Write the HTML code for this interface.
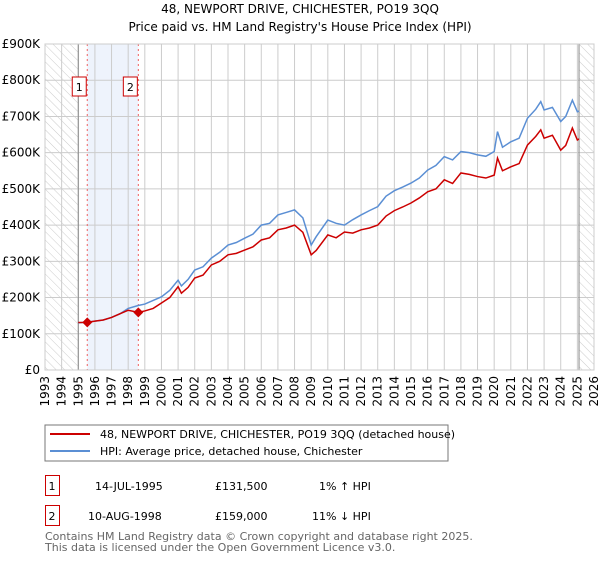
<!DOCTYPE html>
<html><head><meta charset="utf-8"><style>
body{margin:0;background:#fff;font-family:"DejaVu Sans","Liberation Sans",sans-serif;}
svg text{font-family:"DejaVu Sans","Liberation Sans",sans-serif;}
</style></head><body>
<svg id="chart" width="600" height="560" xmlns="http://www.w3.org/2000/svg">
<defs><pattern id="hatch" width="6" height="6" patternUnits="userSpaceOnUse" patternTransform="rotate(-45)"><line x1="0" y1="0" x2="0" y2="6" stroke="#ccc" stroke-width="1"/></pattern></defs>
<text x="300" y="13" text-anchor="middle" font-size="12">48, NEWPORT DRIVE, CHICHESTER, PO19 3QQ</text>
<text x="300" y="31" text-anchor="middle" font-size="12">Price paid vs. HM Land Registry's House Price Index (HPI)</text>
<g id="plot"></g>
<rect x="45" y="425" width="403" height="36" fill="#fff" stroke="#777"/>
<line x1="50" y1="434" x2="90" y2="434" stroke="#cc0000" stroke-width="2"/>
<text x="100" y="438" font-size="11">48, NEWPORT DRIVE, CHICHESTER, PO19 3QQ (detached house)</text>
<line x1="50" y1="451" x2="90" y2="451" stroke="#5b8fd4" stroke-width="2"/>
<text x="100" y="455" font-size="11">HPI: Average price, detached house, Chichester</text>
<g font-size="11">
<rect x="45.5" y="475.5" width="14" height="20" fill="none" stroke="#cc0000"/>
<text x="52" y="490" text-anchor="middle">1</text>
<text x="95" y="490">14-JUL-1995</text>
<text x="215" y="490">£131,500</text>
<text x="319" y="490">1% ↑ HPI</text>
<rect x="45.5" y="505.5" width="14" height="20" fill="none" stroke="#cc0000"/>
<text x="52" y="520" text-anchor="middle">2</text>
<text x="88" y="520">10-AUG-1998</text>
<text x="215" y="520">£159,000</text>
<text x="312" y="520">11% ↓ HPI</text>
</g>
<text x="45" y="540" font-size="11" fill="#666">Contains HM Land Registry data © Crown copyright and database right 2025.</text>
<text x="45" y="551" font-size="11" fill="#666">This data is licensed under the Open Government Licence v3.0.</text>
</svg>
<script>
const yearTicks=[1993,1994,1995,1996,1997,1998,1999,2000,2001,2002,2003,2004,2005,2006,2007,2008,2009,2010,2011,2012,2013,2014,2015,2016,2017,2018,2019,2020,2021,2022,2023,2024,2025,2026];
const valueTicks=[0,100,200,300,400,500,600,700,800,900];
const valueLabels=["£0","£100K","£200K","£300K","£400K","£500K","£600K","£700K","£800K","£900K"];
const hpiYears=[1995.0,1995.5,1996,1996.5,1997,1997.5,1998,1998.6,1999,1999.5,2000,2000.5,2001,2001.2,2001.6,2002,2002.5,2003,2003.5,2004,2004.5,2005,2005.5,2006,2006.5,2007,2007.5,2008,2008.5,2009.0,2009.3,2010,2010.5,2011,2011.5,2012,2012.5,2013,2013.5,2014,2014.5,2015,2015.5,2016,2016.5,2017,2017.5,2018,2018.5,2019,2019.5,2020,2020.2,2020.5,2021,2021.5,2022,2022.5,2022.8,2023,2023.5,2024,2024.3,2024.7,2025,2025.1];
const hpiValues=[130,132,135,138,145,155,170,178,182,192,202,220,248,232,250,276,285,309,325,345,352,364,375,400,405,428,435,442,420,345,368,414,405,400,415,428,440,451,480,495,505,516,530,552,565,589,580,603,600,594,590,603,658,615,630,640,695,720,741,718,725,686,700,745,713,715];
const priceYears=[1995.0,1995.54,1996,1996.5,1997,1997.5,1998,1998.61,1999,1999.5,2000,2000.5,2001,2001.2,2001.6,2002,2002.5,2003,2003.5,2004,2004.5,2005,2005.5,2006,2006.5,2007,2007.5,2008,2008.5,2009.0,2009.3,2010,2010.5,2011,2011.5,2012,2012.5,2013,2013.5,2014,2014.5,2015,2015.5,2016,2016.5,2017,2017.5,2018,2018.5,2019,2019.5,2020,2020.2,2020.5,2021,2021.5,2022,2022.5,2022.8,2023,2023.5,2024,2024.3,2024.7,2025,2025.1];
const priceValues=[131,131.5,135,138,145,155,165,159,163,170,185,200,230,212,228,254,262,290,300,318,322,331,340,359,365,387,392,400,380,318,330,373,365,381,378,387,392,400,425,440,450,461,475,492,500,525,515,544,540,534,530,538,585,550,561,570,621,645,663,640,648,607,620,668,635,638];
const sales=[{n:"1",year:1995.54,value:131.5},{n:"2",year:1998.61,value:159}];
const NS="http://www.w3.org/2000/svg";
const L=45,R=594,T=44,B=370;
const xs=y=>L+(y-1993)*(R-L)/33;
const ys=v=>B-v*(B-T)/900;
const g=document.getElementById('plot');
function mk(tag,attrs){const e=document.createElementNS(NS,tag);for(const k in attrs)e.setAttribute(k,attrs[k]);g.appendChild(e);return e;}
let e;
e=mk('rect',{x:L,y:T,width:R-L,height:B-T,fill:'#fff'});


e=mk('rect',{x:xs(sales[0].year),y:T,width:xs(sales[1].year)-xs(sales[0].year),height:B-T,fill:'#eef3fc'});


e=mk('rect',{x:L,y:T,width:xs(1995)-L,height:B-T,fill:'url(#hatch)'});


e=mk('rect',{x:xs(2025.1),y:T,width:R-xs(2025.1),height:B-T,fill:'url(#hatch)'});


yearTicks.forEach(yr=>{
 e=mk('line',{x1:xs(yr),x2:xs(yr),y1:T,y2:B,stroke:'#ccc','stroke-width':1});
 
 
 e=mk('text',{x:0,y:0,'font-size':12,'text-anchor':'end',transform:`translate(${xs(yr)+4},${B+6}) rotate(-90)`});
 e.textContent=yr;
 
 
});
valueTicks.forEach((v,i)=>{
 e=mk('line',{x1:L,x2:R,y1:ys(v),y2:ys(v),stroke:'#ccc','stroke-width':1});
 
 
 e=mk('text',{x:L-5,y:ys(v)+4,'font-size':12,'text-anchor':'end'});
 e.textContent=valueLabels[i];
 
 
});
e=mk('line',{x1:xs(1995),x2:xs(1995),y1:T,y2:B,stroke:'#888','stroke-width':1});


e=mk('line',{x1:xs(2025.1),x2:xs(2025.1),y1:T,y2:B,stroke:'#888','stroke-width':1});


sales.forEach(s=>{
 e=mk('line',{x1:xs(s.year),x2:xs(s.year),y1:T,y2:B,stroke:'#f06060','stroke-width':1,'stroke-dasharray':'2,3'});
 
 
});
e=mk('polyline',{points:hpiYears.map((y,i)=>xs(y)+','+ys(hpiValues[i])).join(' '),fill:'none',stroke:'#5b8fd4','stroke-width':1.5});


e=mk('polyline',{points:priceYears.map((y,i)=>xs(y)+','+ys(priceValues[i])).join(' '),fill:'none',stroke:'#cc0000','stroke-width':1.5});


sales.forEach(s=>{
 const cx=xs(s.year),cy=ys(s.value);
 e=mk('polygon',{points:`${cx},${cy-5} ${cx+5},${cy} ${cx},${cy+5} ${cx-5},${cy}`,fill:'#cc0000'});
 
 
 e=mk('rect',{x:cx-15,y:77,width:14,height:19,fill:'#fff',stroke:'#cc0000'});
 
 
 e=mk('text',{x:cx-8,y:91,'font-size':11,'text-anchor':'middle'});
 e.textContent=s.n;
 
 
});
e=mk('rect',{x:L,y:T,width:R-L,height:B-T,fill:'none',stroke:'#ccc'});


</script>
</body></html>
